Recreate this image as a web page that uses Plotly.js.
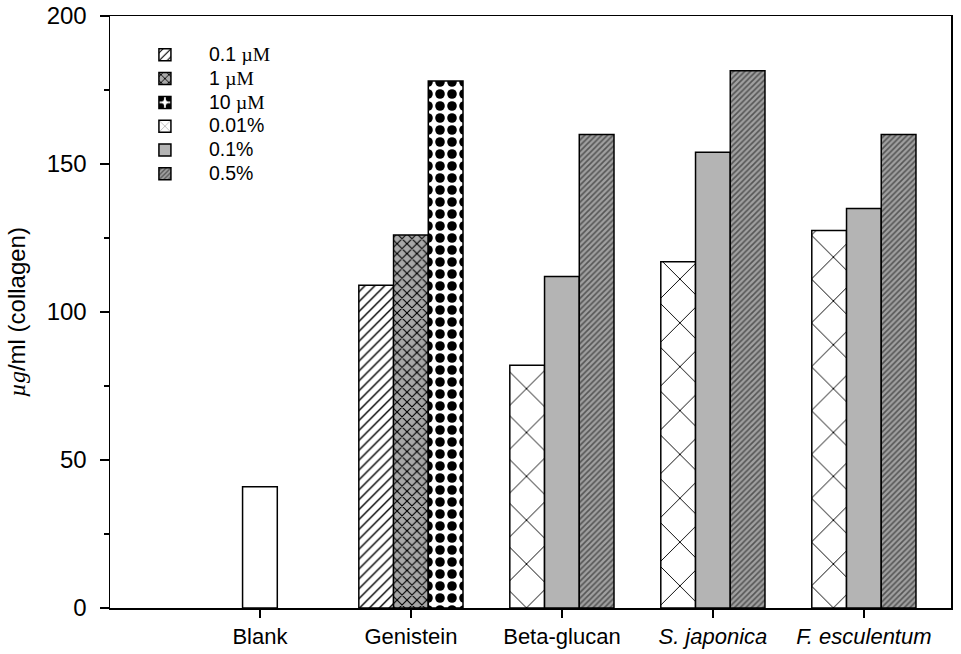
<!DOCTYPE html>
<html>
<head>
<meta charset="utf-8">
<script src="https://cdn.plot.ly/plotly-3.0.1.min.js"></script>
<style>html,body{margin:0;padding:0;background:#fff;}#chart{width:961px;height:654px;}</style>
</head>
<body>
<div id="chart"></div>
<script>
// Categories and tick labels
const categories = ["Blank", "Genistein", "Beta-glucan", "S. japonica", "F. esculentum"];
const tickLabels = ["Blank", "Genistein", "Beta-glucan", "<i>S. japonica</i>", "<i>F. esculentum</i>"];

// Series values (µg/ml collagen)
const blankCats = ["Blank"];
const blankVals = [41];

const genisteinCats = ["Genistein"];
const gen01uM = [109];
const gen1uM = [126];
const gen10uM = [178];

const extractCats = ["Beta-glucan", "S. japonica", "F. esculentum"];
const ext001 = [82, 117, 127.5];
const ext01 = [112, 154, 135];
const ext05 = [160, 181.5, 160];

const legendLabels = ["0.1 µM", "1 µM", "10 µM", "0.01%", "0.1%", "0.5%"];
function legendText(s) {
  const html = s.replace("µM", "<span style='font-family:Liberation Serif'>µM</span>");
  return "<span style='font-size:19.5px'>" + html + "</span>";
}

const line = {color: "#000", width: 1.5};

const traces = [
  {type: "bar", name: legendText(legendLabels[0]), x: genisteinCats, y: gen01uM, offsetgroup: "a",
   marker: {color: "#fff", line: line, pattern: {shape: "/", bgcolor: "#fff", fgcolor: "#000", size: 7, solidity: 0.2}}},
  {type: "bar", name: "Blank", x: blankCats, y: blankVals, offsetgroup: "b", showlegend: false,
   marker: {color: "#fff", line: line}},
  {type: "bar", name: legendText(legendLabels[1]), x: genisteinCats, y: gen1uM, offsetgroup: "b",
   marker: {color: "#a8a8a8", line: line, pattern: {shape: "x", bgcolor: "#a8a8a8", fgcolor: "#000", size: 7, solidity: 0.3}}},
  {type: "bar", name: legendText(legendLabels[2]), x: genisteinCats, y: gen10uM, offsetgroup: "c",
   marker: {color: "#fff", line: line, pattern: {shape: ".", bgcolor: "#fff", fgcolor: "#000", size: 12, solidity: 0.5}}},
  {type: "bar", name: legendText(legendLabels[3]), x: extractCats, y: ext001, offsetgroup: "a",
   marker: {color: "#fff", line: line, pattern: {shape: "x", bgcolor: "#fff", fgcolor: "#000", size: 31, solidity: 0.06}}},
  {type: "bar", name: legendText(legendLabels[4]), x: extractCats, y: ext01, offsetgroup: "b",
   marker: {color: "#b4b4b4", line: line}},
  {type: "bar", name: legendText(legendLabels[5]), x: extractCats, y: ext05, offsetgroup: "c",
   marker: {color: "#999", line: line, pattern: {shape: "/", bgcolor: "#a0a0a0", fgcolor: "#555", size: 4, solidity: 0.4}}}
];

const layout = {
  width: 961, height: 654,
  margin: {l: 110, r: 10, t: 16, b: 46},
  paper_bgcolor: "#fff", plot_bgcolor: "#fff",
  barmode: "group", bargap: 0.31, bargroupgap: 0,
  font: {family: "Liberation Sans, Arial, sans-serif", color: "#000"},
  showlegend: true,
  legend: {x: 0.013, y: 0.963, xanchor: "left", yanchor: "top", bgcolor: "rgba(0,0,0,0)",
           font: {size: 16, color: "#000"}, itemwidth: 78, traceorder: "normal"},
  xaxis: {
    type: "category", categoryorder: "array", categoryarray: categories,
    tickvals: categories, ticktext: tickLabels,
    range: [-0.993, 4.577],
    showline: true, linecolor: "#000", linewidth: 1.5, mirror: true,
    ticks: "outside", ticklen: 8, tickwidth: 1.5, tickcolor: "#000",
    showgrid: false, zeroline: false,
    tickfont: {size: 22, color: "#000"}
  },
  yaxis: {
    range: [0, 200], tickvals: [0, 50, 100, 150, 200],
    showline: true, linecolor: "#000", linewidth: 1.5, mirror: true,
    ticks: "outside", ticklen: 9, tickwidth: 1.5, tickcolor: "#000",
    ticklabelstandoff: 8,
    minor: {dtick: 25, ticks: "outside", ticklen: 5, tickwidth: 1.2, tickcolor: "#000", showgrid: false},
    showgrid: false, zeroline: false, automargin: false,
    tickfont: {size: 24, color: "#000"},
    title: {text: "<i style='font-family:Liberation Serif'>µg</i>/ml (collagen)", font: {size: 24, color: "#000"}, standoff: 14}
  }
};

Plotly.newPlot("chart", traces, layout, {displayModeBar: false, staticPlot: true});
</script>
</body>
</html>
